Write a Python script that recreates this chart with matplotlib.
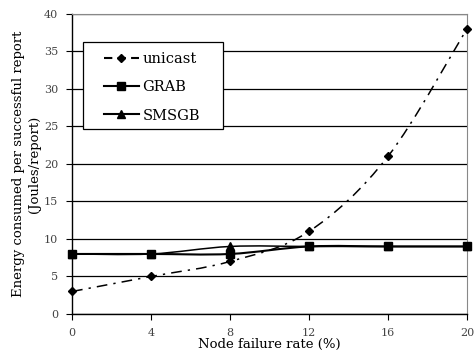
import numpy as np
import matplotlib
matplotlib.use("Agg")
import matplotlib.pyplot as plt
from matplotlib.path import Path
from matplotlib.patches import PathPatch, Rectangle
from matplotlib.lines import Line2D

x_vals = [0, 4, 8, 12, 16, 20]
unicast = [3, 5, 7, 11, 21, 38]
grab = [8, 8, 8, 9, 9, 9]
smsgb = [8, 8, 9, 9, 9, 9]
yticks = [0, 5, 10, 15, 20, 25, 30, 35, 40]

plt.rcParams['font.family'] = ['DejaVu Serif']

fig = plt.figure(figsize=(4.74, 3.56), dpi=100)
ax = fig.add_axes([0.152, 0.118, 0.833, 0.843])


def smooth_path(xs, ys):
    pts = np.column_stack([xs, ys]).astype(float)
    n = len(pts)
    verts = [pts[0]]
    codes = [Path.MOVETO]
    for i in range(n - 1):
        p0 = pts[i - 1] if i > 0 else pts[i]
        p1 = pts[i]
        p2 = pts[i + 1]
        p3 = pts[i + 2] if i + 2 < n else pts[i + 1]
        c1 = p1 + (p2 - p0) / 6.0
        c2 = p2 - (p3 - p1) / 6.0
        verts += [c1, c2, p2]
        codes += [Path.CURVE4] * 3
    return Path(verts, codes)


series = [
    (unicast, 'unicast', 'D', (0, (7, 4, 1.5, 4)), 4.5, 1.1),
    (grab, 'GRAB', 's', '-', 5.5, 1.5),
    (smsgb, 'SMSGB', '^', '-', 5.5, 1.1),
]
handles = []
for ys, name, mk, ls, ms, lw in series:
    patch = PathPatch(smooth_path(x_vals, ys), fill=False, edgecolor='black',
                      linewidth=lw, linestyle=ls, zorder=3)
    ax.add_patch(patch)
    ax.plot(x_vals, ys, linestyle='none', marker=mk, color='black',
            markersize=ms, zorder=4, clip_on=False)
    handles.append(Line2D([0], [0], color='black',
                          linestyle=(0, (4, 2.5)) if name == 'unicast' else '-',
                          linewidth=1.5, marker=mk, markersize=ms, label=name))

ax.set_xlim(0, 20)
ax.set_ylim(0, 40)
ax.set_xticks(x_vals)
ax.set_yticks(yticks)
ax.yaxis.grid(True, color='black', linewidth=0.9)
ax.set_axisbelow(True)
for s in ['top', 'right']:
    ax.spines[s].set_color('#888888')
ax.spines['left'].set_linewidth(1.0)
ax.spines['bottom'].set_linewidth(1.0)
ax.tick_params(axis='both', direction='out', length=4, labelsize=8,
               labelcolor='#444444', pad=6)
ax.set_xlabel('Node failure rate (%)', fontsize=9.5, labelpad=0)
ax.set_ylabel('Energy consumed per successful report\n(Joules/report)',
              fontsize=9.5, labelpad=2, linespacing=1.35)

# legend frame
ax.add_patch(Rectangle((0.028, 0.615), 0.354, 0.292, transform=ax.transAxes,
                       facecolor='white', edgecolor='black', linewidth=0.9,
                       zorder=5))
leg = ax.legend(handles=handles, loc='upper left', bbox_to_anchor=(0.08, 0.872),
                frameon=False, fontsize=10.5, handlelength=2.4,
                handletextpad=0.25, labelspacing=0.97, borderpad=0,
                borderaxespad=0)
leg.set_zorder(6)

fig.savefig('out.png', dpi=100)
